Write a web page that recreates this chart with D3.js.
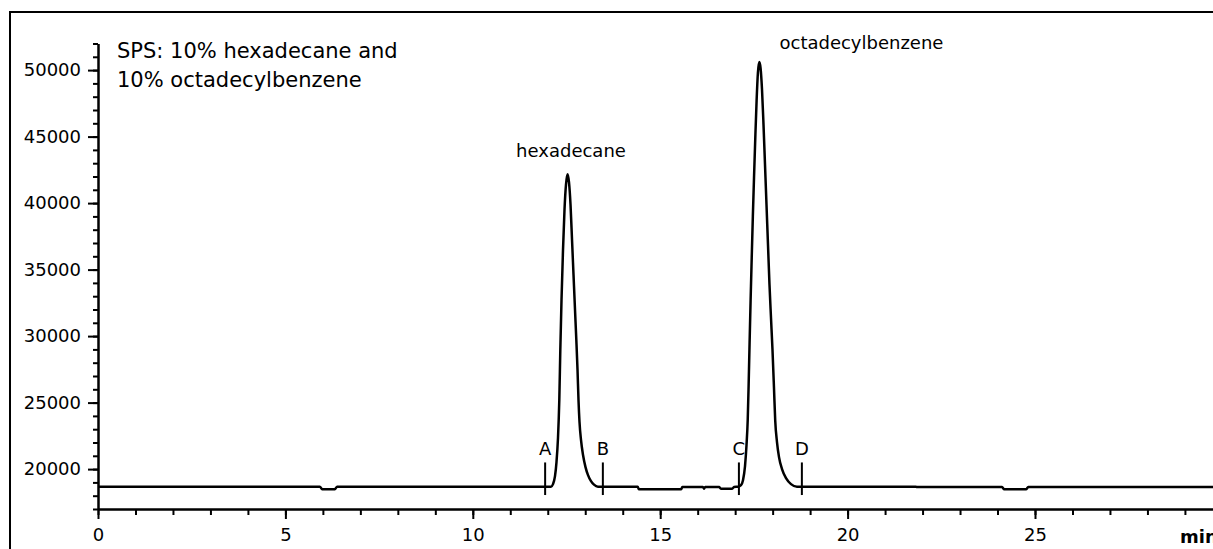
<!DOCTYPE html>
<html>
<head>
<meta charset="utf-8">
<script src="https://cdn.jsdelivr.net/npm/d3@7"></script>
<style>
  body { margin: 0; background: #fff; }
  svg text { font-family: "DejaVu Sans", Verdana, sans-serif; fill: #000; }
</style>
</head>
<body>
<svg id="plot"></svg>
<script>
let svg = d3.select("#plot")

let svgwidth = 1213, svgheight = 549;
svg.attr("width", svgwidth).attr("height", svgheight)

// chromatogram trace, time (min) and signal
let times = [0, 5.92, 5.98, 6.32, 6.38, 12.087,
  12.14, 12.193, 12.233, 12.273, 12.308, 12.335, 12.367, 12.407, 12.447, 12.487, 12.527,
  12.567, 12.607, 12.647, 12.687, 12.727, 12.762, 12.794, 12.82, 12.847, 12.887, 12.941,
  13.007, 13.074, 13.154, 13.234, 13.34,
  14.40, 14.43, 15.56, 15.59, 16.14, 16.17, 16.20, 16.57, 16.62, 16.92, 16.97, 17.076,
  17.156, 17.209, 17.263, 17.303, 17.335, 17.36, 17.385, 17.412, 17.442, 17.472, 17.503,
  17.537, 17.572, 17.607, 17.644, 17.678, 17.716, 17.756, 17.796, 17.836, 17.876, 17.916, 17.956,
  17.996, 18.036, 18.068, 18.116, 18.17, 18.25, 18.357, 18.49, 18.65,
  21.82, 21.85, 24.12, 24.18, 24.76, 24.82, 30]
let signal = [18680, 18680, 18490, 18490, 18680, 18680,
  18870, 19470, 20530, 22340, 25200, 28970, 32740, 36500, 39520, 41400, 42160,
  41550, 39900, 37260, 34620, 31980, 29720, 27460, 25200, 23540, 22190, 21055,
  20150, 19550, 19100, 18830, 18680,
  18680, 18480, 18480, 18660, 18660, 18520, 18660, 18660, 18520, 18520, 18660, 18680,
  18800, 19170, 20230, 21810, 23690, 26400, 29500, 32700, 35900, 39000, 41900,
  44900, 47700, 49800, 50600, 50150, 48560, 45920, 42910, 39900, 36880, 33870, 31380,
  28970, 26100, 23690, 22030, 20900, 20000, 19320, 18870, 18680,
  18680, 18650, 18650, 18480, 18480, 18650, 18650]

// integration markers
let marker_names = ["A", "B", "C", "D"]
let marker_times = [11.93, 13.47, 17.10, 18.78]
let marker_low = 18050, marker_high = 20500

let peak_names = ["hexadecane", "octadecylbenzene"]
let peak_times = [12.62, 20.37]
let peak_label_y = [43450, 51600]

let x_major = [0, 5, 10, 15, 20, 25]
let y_major = [20000, 25000, 30000, 35000, 40000, 45000, 50000]

let trace = times.map((t, i) => ({t: t, v: signal[i]}))

let x_scale = d3.scaleLinear([0, 30], [98, 98 + 30 * 37.48])
let y_scale = d3.scaleLinear([17000, 52000], [509, 43.5])

// frame
svg.append("rect")
  .attr("x", 10).attr("y", 12)
  .attr("width", 1300).attr("height", 600)
  .attr("fill", "none").attr("stroke", "#000").attr("stroke-width", 2)

// y axis
let gy = svg.append("g").attr("transform", `translate(${x_scale(0)},0)`)
gy.call(d3.axisLeft(y_scale).tickValues(d3.range(17000, 52001, 1000)).tickSize(5).tickSizeOuter(0).tickFormat(""))
gy.append("g").call(d3.axisLeft(y_scale).tickValues(y_major).tickSize(10).tickSizeOuter(0).tickPadding(7).tickFormat(d3.format("d")))
gy.selectAll("path, line").attr("stroke", "#000").attr("stroke-width", 2)
gy.selectAll("text").style("font-size", "18px").attr("fill", "#000")

// x axis
let gx = svg.append("g").attr("transform", `translate(0,${y_scale(17000)})`)
gx.call(d3.axisBottom(x_scale).tickValues(d3.range(0, 31, 1)).tickSize(6).tickSizeOuter(0).tickFormat(""))
gx.append("g").call(d3.axisBottom(x_scale).tickValues(x_major).tickSize(10).tickSizeOuter(0).tickPadding(9).tickFormat(d3.format("d")))
gx.selectAll("path, line").attr("stroke", "#000").attr("stroke-width", 2)
gx.selectAll("text").style("font-size", "18px").attr("fill", "#000")

svg.append("text")
  .attr("x", 1180).attr("y", y_scale(17000) + 34)
  .style("font-size", "18px").style("font-weight", "bold")
  .text("min")

// trace
let line = d3.line().x(d => x_scale(d.t)).y(d => y_scale(d.v)).curve(d3.curveMonotoneX)
svg.append("path")
  .datum(trace)
  .attr("d", line)
  .attr("fill", "none")
  .attr("stroke", "#000")
  .attr("stroke-width", 2.5)
  .attr("stroke-linejoin", "round")

// markers
let gm = svg.append("g")
gm.selectAll("line")
  .data(marker_times)
  .join("line")
  .attr("x1", d => x_scale(d)).attr("x2", d => x_scale(d))
  .attr("y1", y_scale(marker_low)).attr("y2", y_scale(marker_high))
  .attr("stroke", "#000").attr("stroke-width", 2)
gm.selectAll("text")
  .data(marker_times)
  .join("text")
  .attr("x", d => x_scale(d)).attr("y", y_scale(marker_high) - 7)
  .attr("text-anchor", "middle")
  .style("font-size", "18px")
  .text((d, i) => marker_names[i])

// peak labels
svg.selectAll(".peaklab")
  .data(peak_names)
  .join("text")
  .attr("class", "peaklab")
  .attr("x", (d, i) => x_scale(peak_times[i]))
  .attr("y", (d, i) => y_scale(peak_label_y[i]))
  .attr("text-anchor", "middle")
  .style("font-size", "18px")
  .text(d => d)

// title
let title = svg.append("text").attr("x", 117).attr("y", 58).style("font-size", "21px")
title.append("tspan").attr("x", 117).text("SPS: 10% hexadecane and")
title.append("tspan").attr("x", 117).attr("dy", 29).text("10% octadecylbenzene")
</script>
</body>
</html>
